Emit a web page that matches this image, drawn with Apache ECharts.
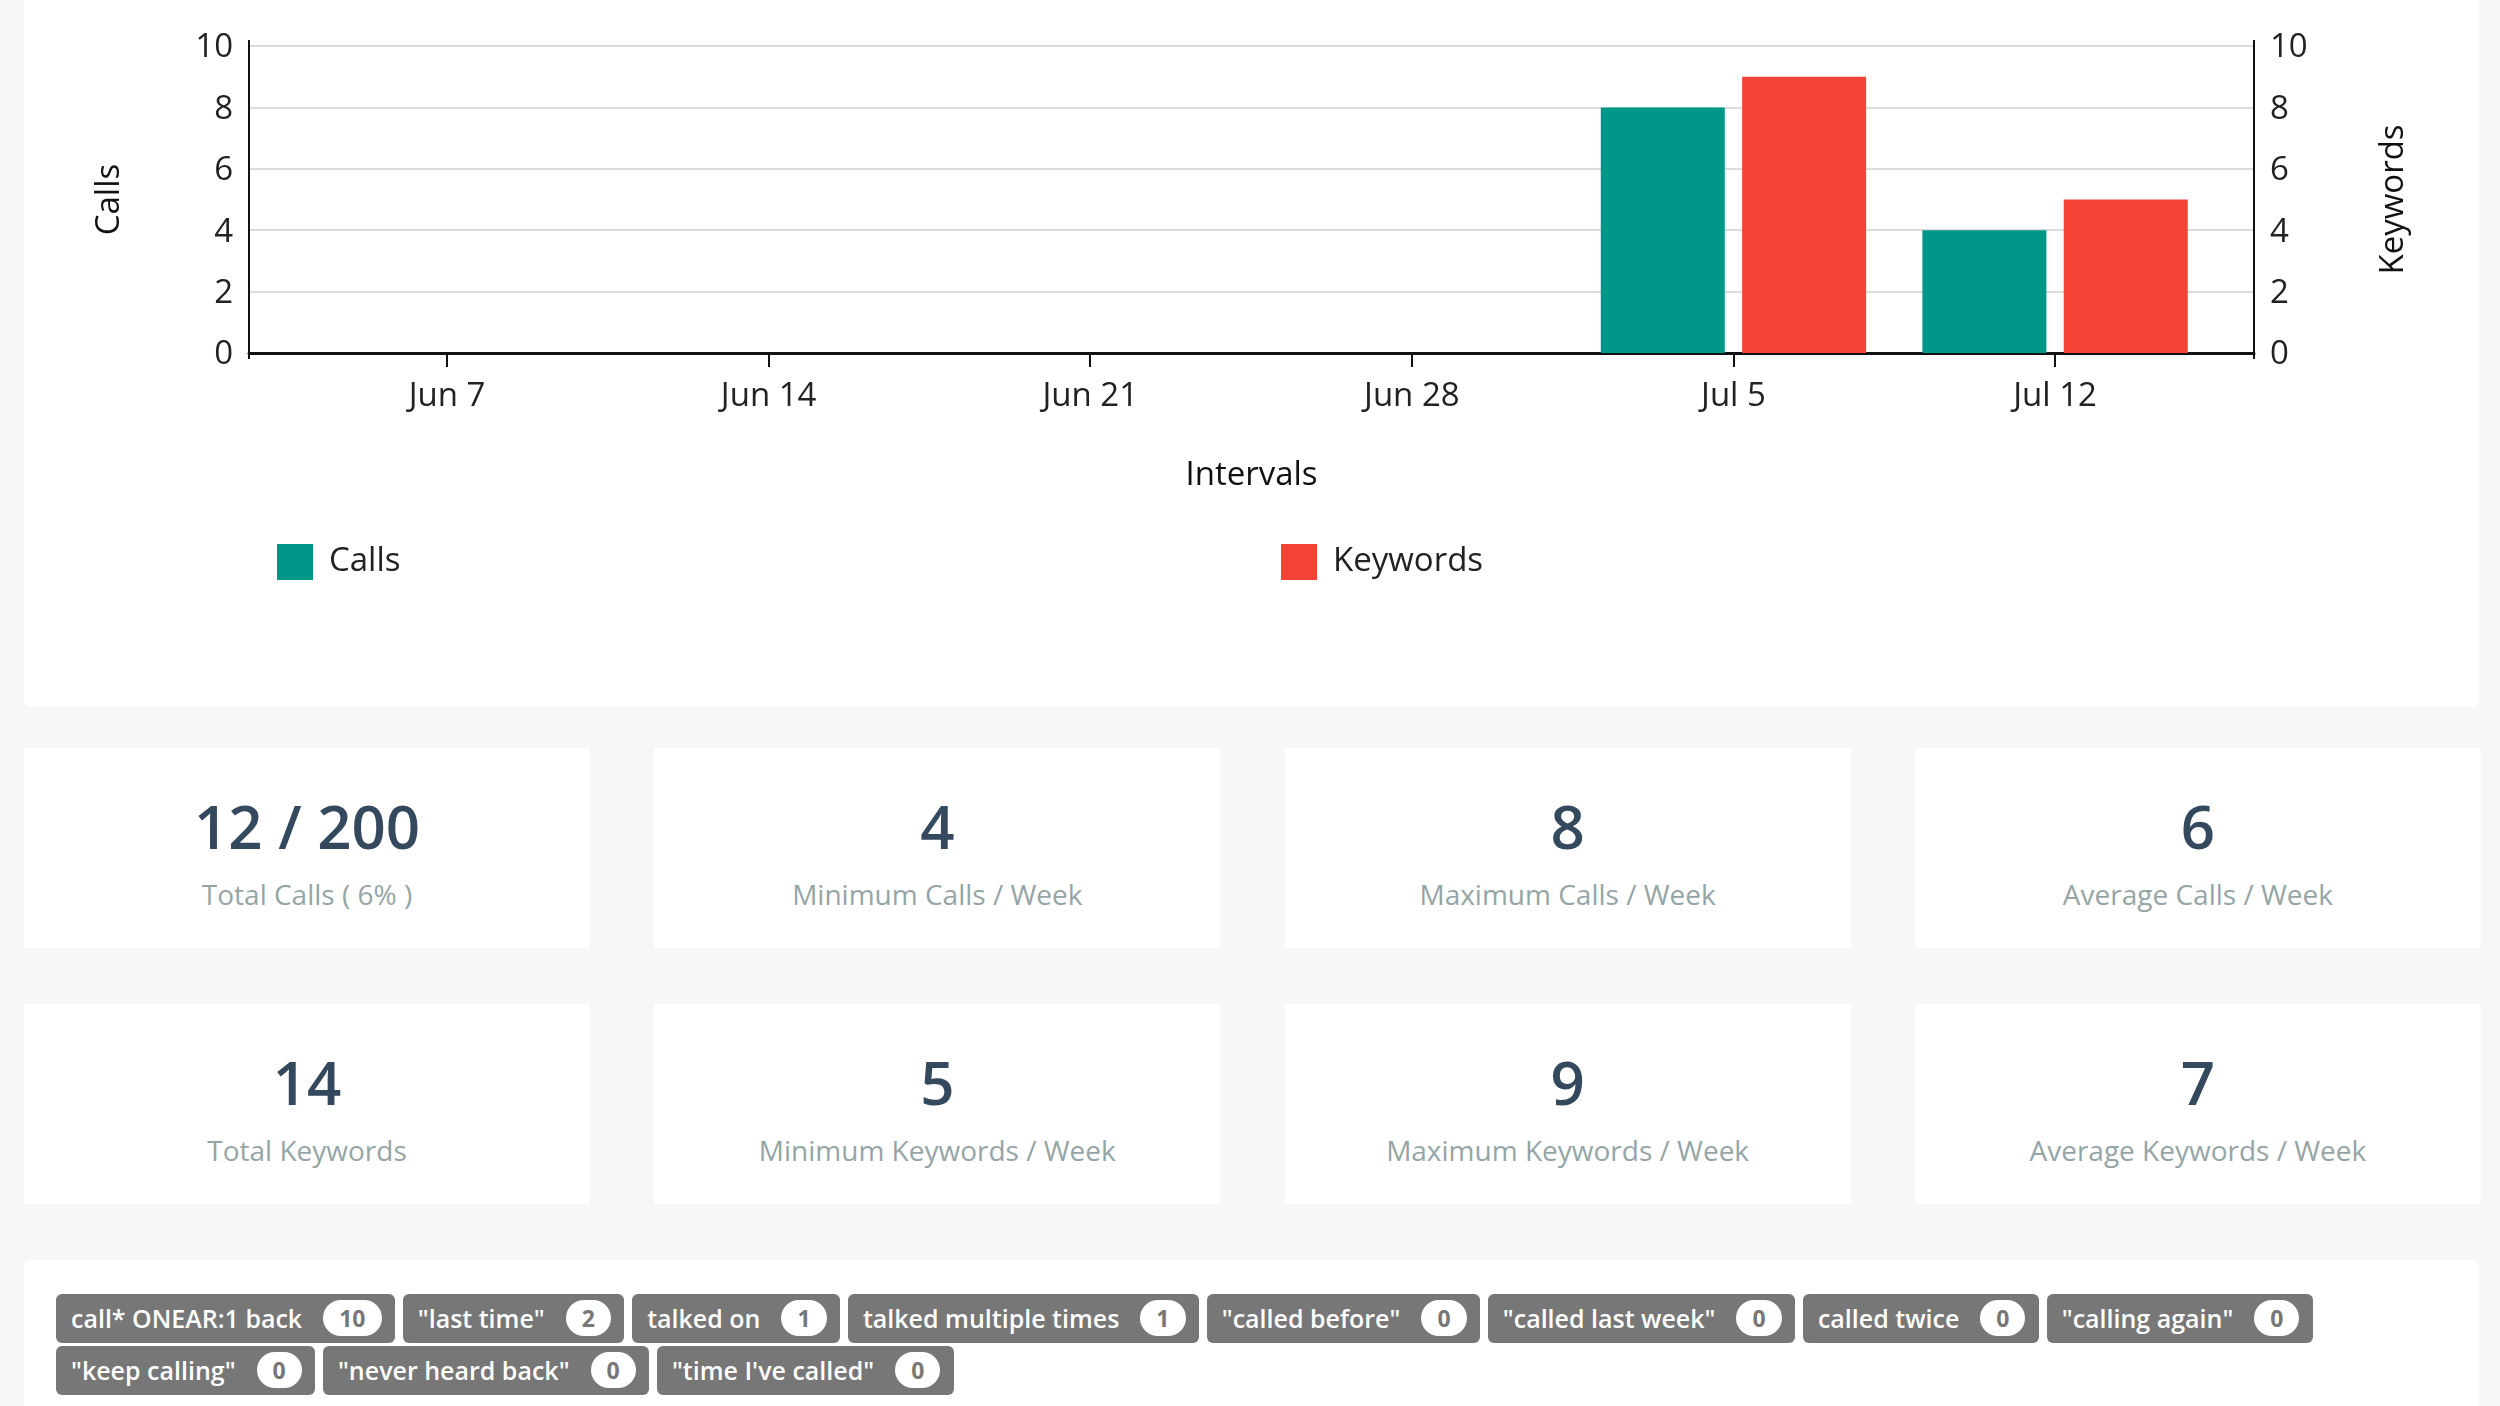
<!DOCTYPE html>
<html>
<head>
<meta charset="utf-8">
<title>Calls and Keywords</title>
<script src="https://cdn.jsdelivr.net/npm/echarts@6/dist/echarts.min.js"></script>
<style>
    html, body { margin: 0; padding: 0; }
    body {
        position: relative;
        width: 2500px;
        height: 1406px;
        overflow: hidden;
        background: #f6f7f9;
        font-family: "Open Sans", sans-serif;
    }
    .panel {
        position: absolute;
        left: 24px;
        width: 2455px;
        background: #fff;
        border-radius: 6px;
    }
    #chartPanel { top: -10px; height: 717px; }
    #chart { position: absolute; left: 0; top: 0; width: 2500px; height: 720px; }
    #stats {
        position: absolute;
        left: 24px;
        top: 748px;
        display: grid;
        grid-template-columns: repeat(4, 566px);
        grid-auto-rows: 200px;
        column-gap: 64.3px;
        row-gap: 56px;
    }
    .stat { background: #fff; text-align: center; }
    .stat b {
        display: block;
        margin-top: 36px;
        font-size: 60px;
        line-height: 84px;
        font-weight: 600;
        color: #34495e;
    }
    .stat span {
        display: block;
        margin-top: 1px;
        font-size: 28px;
        line-height: 50px;
        color: #95a5a6;
    }
    #keywordPanel { top: 1260px; height: 160px; }
    #keywords {
        position: absolute;
        left: 32px;
        top: 34px;
        width: 2340px;
    }
    .kw {
        display: inline-block;
        box-sizing: border-box;
        height: 49px;
        margin: 0 7.8px 3px 0;
        padding: 0 13.5px 0 15px;
        border-radius: 6px;
        background: #777;
        color: #fff;
        font-size: 25px;
        font-weight: 600;
        line-height: 49px;
        vertical-align: top;
        white-space: nowrap;
    }
    .kw i {
        display: inline-block;
        min-width: 13px;
        height: 36px;
        margin-left: 21px;
        padding: 0 16px;
        border-radius: 18px;
        background: #fff;
        color: #777;
        font-size: 23px;
        font-style: normal;
        font-weight: 700;
        line-height: 36px;
        text-align: center;
        vertical-align: 1px;
    }
</style>
</head>
<body>
<div class="panel" id="chartPanel"></div>
<div id="chart"></div>
<div id="stats"></div>
<div class="panel" id="keywordPanel"><div id="keywords"></div></div>
<script>
var weekLabels = ['Jun 7', 'Jun 14', 'Jun 21', 'Jun 28', 'Jul 5', 'Jul 12'];
// day count from Jun 1, so Jul 5 is 34
var weekDays = [6, 13, 20, 27, 34, 41];
var callValues = [0, 0, 0, 0, 8, 4];
var keywordValues = [0, 0, 0, 0, 9, 5];

var statValues = ['12 / 200', '4', '8', '6', '14', '5', '9', '7'];
var statLabels = [
    'Total Calls ( 6% )', 'Minimum Calls / Week', 'Maximum Calls / Week', 'Average Calls / Week',
    'Total Keywords', 'Minimum Keywords / Week', 'Maximum Keywords / Week', 'Average Keywords / Week'
];

var keywordNames = [
    'call* ONEAR:1 back', '"last time"', 'talked on', 'talked multiple times', '"called before"',
    '"called last week"', 'called twice', '"calling again"', '"keep calling"', '"never heard back"',
    '"time I\'ve called"'
];
var keywordCounts = [10, 2, 1, 1, 0, 0, 0, 0, 0, 0, 0];

function pairs(values) {
    return values.map(function (v, i) {
        return [weekDays[i], v];
    });
}

function draw_chart() {
    var textColor = '#222';
    var labelFont = { fontFamily: 'Open Sans', fontSize: 33, color: textColor };
    var sideAxisLine = {
        show: true,
        symbol: ['rect', 'rect'],
        symbolSize: [2, 12],
        lineStyle: { color: '#111', width: 2 }
    };
    var myChart = echarts.init(document.getElementById('chart'));
    var option = {
        animation: false,
        textStyle: { fontFamily: 'Open Sans' },
        grid: { left: 249, right: 246, top: 46, bottom: 367 },
        legend: [
            {
                left: 272, top: 539,
                data: ['Calls'], icon: 'rect', itemWidth: 36, itemHeight: 36,
                textStyle: { fontFamily: 'Open Sans', fontSize: 33, color: textColor, padding: [0, 0, 0, 11] }
            },
            {
                left: 1276, top: 539,
                data: ['Keywords'], icon: 'rect', itemWidth: 36, itemHeight: 36,
                textStyle: { fontFamily: 'Open Sans', fontSize: 33, color: textColor, padding: [0, 0, 0, 11] }
            }
        ],
        xAxis: {
            type: 'value',
            min: 1.69,
            max: 45.33,
            name: 'Intervals',
            nameLocation: 'middle',
            nameGap: 106,
            nameTextStyle: { fontFamily: 'Open Sans', fontSize: 33, color: '#111' },
            axisLine: { lineStyle: { color: '#111', width: 3 } },
            axisTick: { customValues: weekDays, length: 14, lineStyle: { color: '#111', width: 2 } },
            axisLabel: Object.assign({
                customValues: weekDays,
                margin: 27,
                showMinLabel: true,
                showMaxLabel: true,
                formatter: function (value) {
                    return weekLabels[weekDays.indexOf(value)];
                }
            }, labelFont),
            splitLine: { show: false }
        },
        yAxis: [
            {
                type: 'value',
                min: 0,
                max: 10,
                interval: 2,
                name: 'Calls',
                nameLocation: 'middle',
                nameGap: 123,
                nameTextStyle: { fontFamily: 'Open Sans', fontSize: 33, color: '#111' },
                axisLine: sideAxisLine,
                axisTick: { show: false },
                axisLabel: Object.assign({ margin: 16, verticalAlign: 'top', lineHeight: 4 }, labelFont),
                splitLine: { lineStyle: { color: '#dcdcdc', width: 2 } }
            },
            {
                type: 'value',
                min: 0,
                max: 10,
                interval: 2,
                name: 'Keywords',
                nameLocation: 'middle',
                nameGap: 123,
                nameTextStyle: { fontFamily: 'Open Sans', fontSize: 33, color: '#111' },
                axisLine: sideAxisLine,
                axisTick: { show: false },
                axisLabel: Object.assign({ margin: 16, verticalAlign: 'top', lineHeight: 4 }, labelFont),
                splitLine: { show: false }
            }
        ],
        series: [
            {
                name: 'Calls',
                type: 'bar',
                yAxisIndex: 0,
                barWidth: 124,
                barGap: '14%',
                itemStyle: { color: '#009688' },
                data: pairs(callValues)
            },
            {
                name: 'Keywords',
                type: 'bar',
                yAxisIndex: 1,
                barWidth: 124,
                barGap: '14%',
                itemStyle: { color: '#f44336' },
                data: pairs(keywordValues)
            }
        ]
    };
    myChart.setOption(option);
}

function draw_stats() {
    var html = '';
    for (var i = 0; i < statValues.length; i++) {
        html += '<div class="stat"><b>' + statValues[i] + '</b><span>' + statLabels[i] + '</span></div>';
    }
    document.getElementById('stats').innerHTML = html;
}

function draw_keywords() {
    var box = document.getElementById('keywords');
    keywordNames.forEach(function (name, i) {
        var tag = document.createElement('span');
        tag.className = 'kw';
        tag.textContent = name;
        var count = document.createElement('i');
        count.textContent = keywordCounts[i];
        tag.appendChild(count);
        box.appendChild(tag);
    });
}

draw_chart();
draw_stats();
draw_keywords();
</script>
</body>
</html>
